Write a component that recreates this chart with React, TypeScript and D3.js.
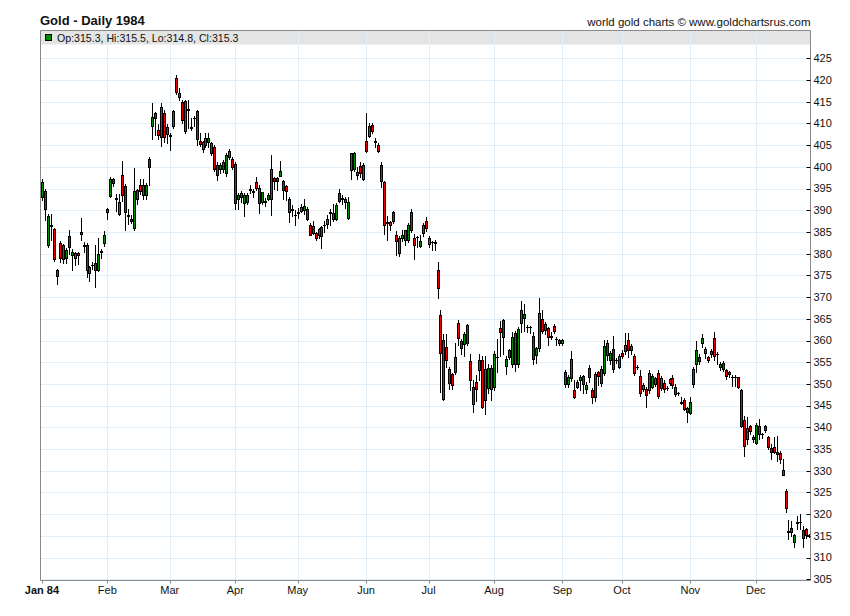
import * as d3 from "d3";

// each bar: [open, high, low, close]
type Bar = [number, number, number, number];

const jan: Bar[] = [
  [393.1, 397.3, 392.3, 396.4], [394.4, 395, 387.7, 390.4], [381.9, 389.2, 381.5, 388.6],
  [386.5, 389.2, 383.1, 386.3], [385.6, 386, 378.2, 378.7], [374.8, 376.5, 373.1, 376.3],
  [382.5, 383, 378, 379], [378.7, 382.2, 377.8, 381.9], [379, 381.2, 377.8, 380.9],
  [384, 385.5, 380, 381.5], [379.6, 381, 376.3, 380.4], [379, 380.5, 377.3, 380.2],
  [380.2, 380.5, 377.7, 379.6], [384.5, 388.3, 383.1, 385.1], [382.1, 382.7, 380.4, 381.7],
  [382.1, 382.5, 374.6, 376.3], [375.5, 377.2, 373.8, 376.9], [377.3, 378, 376.5, 377.5],
  [377.9, 381.9, 372.3, 376.3], [376.3, 383.5, 376, 380], [380.4, 381.1, 378.9, 380.6],
  [382.5, 385.3, 381.7, 384.2],
];
const feb: Bar[] = [
  [389.6, 390.6, 388.1, 390.4], [393.3, 397.7, 393, 397.2], [396.2, 397.5, 395.5, 397.2],
  [392.6, 393.8, 389.9, 392.8], [389.2, 393.8, 389, 392], [398.2, 401.3, 392.2, 393.4],
  [395.6, 396, 385.4, 389.5], [388.8, 390.4, 386.8, 388.6], [387.6, 389, 387, 388.1],
  [385.8, 399.8, 385.4, 394.4], [394.6, 395, 391.5, 392.7], [395.9, 397.3, 393.8, 394.4],
  [393.5, 397.3, 392.6, 395.9], [393.4, 396.2, 392.5, 395.9], [401.8, 402.3, 395.9, 400],
  [409.4, 414.6, 406.4, 411.4], [412.5, 412.7, 407.3, 411.2], [408.6, 409.8, 406.4, 407.4],
  [406.8, 414.8, 404.8, 413.7], [412.5, 413, 405.8, 406.8], [409.1, 409.8, 405.5, 407.5],
];
const mar: Bar[] = [
  [407.3, 407.7, 403.8, 407.1], [409.5, 413.1, 408.9, 412.9], [420.4, 421.2, 416.8, 417.2],
  [416, 418.1, 415.4, 416.9], [415, 415.3, 410, 410.9], [408.3, 415.4, 407.7, 415.2],
  [413.3, 415.4, 408.9, 413.1], [408.9, 411.2, 408.5, 409.1], [411.2, 411.6, 409.5, 411.2],
  [412.9, 413.1, 405, 406.3], [406, 407.7, 404.7, 405.3], [404, 406, 403.5, 405.8],
  [405, 407.9, 404.5, 406.6], [405.8, 407.8, 404.6, 406.6], [403.2, 405.8, 402.7, 405.5],
  [404.5, 405, 399, 399.4], [400.4, 401, 397, 398.2], [399.6, 400.8, 398.5, 400.4],
  [401.2, 401.5, 398.8, 399.4], [398.5, 403.1, 398, 402.7], [403.6, 404.1, 401.8, 402.3],
  [401.7, 402.2, 399.5, 399.9],
];
const apr: Bar[] = [
  [400.6, 401, 390.2, 391.6], [392.5, 393.9, 390.2, 393.5], [393, 394.5, 392, 394],
  [391.6, 394, 388.7, 393.5], [391.8, 394, 391.4, 393.5], [394.6, 395.8, 393.9, 394.8],
  [394.5, 395, 393, 394.3], [396.4, 397.7, 394.7, 395.2], [395.2, 395.8, 389.4, 391.6],
  [391.8, 394.3, 391.5, 394.1], [392.1, 392.8, 391, 391.9], [392.7, 394, 392.3, 393.5],
  [392.7, 402.7, 388.8, 399.6], [397.4, 397.6, 394.8, 396.8], [397.4, 397.7, 394.7, 396.8],
  [397.9, 401.4, 397.8, 399], [396.7, 397, 392.7, 394.6], [395.6, 395.9, 392.4, 394.4],
  [392.5, 393, 387.2, 389.7], [390.2, 391.1, 388.6, 390.1], [389, 390, 386.6, 388.8],
];
const may: Bar[] = [
  [389.6, 390.5, 388.2, 389.4], [389.9, 391.5, 389.6, 390.7], [390, 392.6, 389.2, 391],
  [390.4, 390.8, 387.8, 388.1], [386.6, 387, 384.2, 384.4], [384.8, 387.5, 384.5, 386.4],
  [384.8, 385.1, 383.2, 383.7], [384.3, 386, 383.5, 385.6], [386.2, 386.3, 381.2, 384.1],
  [386.7, 387.5, 385, 386.6], [386.8, 389, 386, 387.9], [389.3, 390.4, 386.5, 389.5],
  [389.3, 391.4, 387.5, 387.9], [388.1, 391.6, 387.8, 391.3], [393.9, 394.8, 391.8, 392.1],
  [392.9, 393.4, 391.5, 392.5], [392.6, 393, 390.5, 391.9], [388.3, 393.1, 387.9, 391.8],
  [399.3, 403.3, 397.3, 403.1], [399.5, 403.5, 399, 403.1], [398.1, 400, 397.3, 398.9],
  [400.2, 401.2, 397.7, 398.5], [397.3, 400.8, 397, 400.4],
];
const jun: Bar[] = [
  [405.9, 412.3, 403.4, 403.7], [407.2, 410, 406.8, 409.4], [409.6, 410.2, 407.9, 408.3],
  [405.9, 406.6, 404.6, 405.7], [405, 405.4, 403.5, 403.7], [400.4, 401.2, 395.4, 396.8],
  [396.5, 396.8, 384.6, 386.5], [387.2, 388.6, 383.2, 387.1], [387.3, 387.5, 385.5, 386.7],
  [389.5, 389.8, 387, 387.5], [384.2, 385.2, 379.6, 382.9], [380.2, 384, 379.4, 383.7],
  [383.7, 385.5, 383, 384.2], [383.2, 385.5, 381.9, 385.4], [383.2, 387, 382.8, 386.5],
  [389.5, 390.4, 385, 385.5], [383.5, 384.5, 378.8, 381.9], [383.9, 384, 381.5, 383.8],
  [381.8, 384.3, 381.5, 382.9], [384.8, 387, 384, 386.5], [387.5, 388.5, 385.3, 385.8],
];
const jul: Bar[] = [
  [382.2, 384, 381.5, 383.7], [382.7, 383, 380.8, 382.6], [382.7, 383.1, 380.8, 382.5],
  [376.2, 378.1, 369.8, 372.2], [365.9, 367.1, 348.1, 357.1], [346.5, 361.4, 346.2, 360.2],
  [358.5, 361.4, 354, 355.5], [350.2, 354, 348.9, 353.5], [352.2, 352.5, 348.8, 349.8],
  [352.7, 359.4, 352.3, 356.3], [364.1, 364.8, 359, 360.6], [359.8, 360.3, 356.9, 358.3],
  [359.2, 361.9, 356.5, 361.4], [363.5, 363.8, 359, 359.4], [355.2, 356.9, 348.5, 350.9],
  [345.4, 350.8, 343.5, 349.2], [350.5, 352, 346, 348.8], [353.1, 356.9, 350.8, 355.4],
  [355.6, 356.5, 344.5, 344.8], [346.3, 356.5, 343, 353.5], [349.1, 354.5, 348, 353.7],
  [348.8, 354.4, 346.2, 353.7],
];
const aug: Bar[] = [
  [349.2, 357.5, 348.5, 356.8], [356.2, 360.4, 352.7, 356.1], [362.9, 364.6, 356.5, 361.9],
  [364.8, 365, 356.8, 360.8], [354.2, 356.5, 352.3, 355.8], [356.2, 358, 355.8, 357.7],
  [354.6, 361.9, 354, 360.9], [361.7, 362.2, 353, 354.6], [354.6, 363.1, 353.8, 362.7],
  [364, 369.2, 362, 367.1], [365.2, 368.5, 362.3, 366.2], [363.1, 363.5, 362, 363],
  [363, 363.4, 361.8, 363.1], [361.1, 362, 354.5, 355.7], [356.7, 358.5, 354.8, 358.2],
  [358.2, 369.8, 357.5, 366.3], [364.9, 367.1, 361.8, 362.1], [362.5, 364.2, 361.5, 363.8],
  [362.8, 363.2, 359, 360.9], [361, 362, 360.3, 360.9], [363.4, 363.8, 361.7, 362.1],
  [360.3, 360.7, 359, 360.3], [359.5, 360.4, 359, 360.2],
];
const sep: Bar[] = [
  [359.5, 360.4, 359, 360.2], [352.8, 353.3, 349.4, 350], [350, 352, 349.4, 351.5],
  [351.3, 357.5, 350.6, 355.7], [348.6, 350.9, 346.8, 347.1], [349.4, 351, 349, 350.5],
  [350.9, 352, 348.5, 351.5], [351.8, 352.1, 347.8, 350], [348.8, 350.5, 348, 349.8],
  [353.6, 354.4, 350.5, 351.5], [348.5, 349, 345.5, 347.1], [346.9, 352.8, 346, 352.3],
  [352.8, 353, 349.8, 351.8], [350.2, 354.2, 349.5, 353.4], [352.5, 360.2, 352, 358.8],
  [359.5, 360.2, 355.6, 356.7], [355.4, 357.5, 354.5, 357.1], [358, 361.1, 352.8, 353.4],
  [355.4, 356, 354.8, 355.4], [354, 357, 353.7, 356.5],
];
const oct: Bar[] = [
  [357.2, 357.7, 356, 356.5], [357.5, 361.7, 357, 359], [360.2, 361.7, 356.3, 357.7],
  [357.7, 359.2, 357, 358.8], [356.5, 356.8, 352, 352.6], [354, 354.3, 353.5, 354],
  [351.8, 353.2, 347.2, 347.8], [348.8, 350.2, 348.4, 349.8], [348.8, 349.2, 344.8, 347.5],
  [348.6, 353.2, 348, 352.5], [349.4, 352.2, 349, 351.8], [350, 351.6, 349.5, 351.3],
  [352.5, 353.2, 346.8, 347.2], [349, 351.8, 348.5, 351.3], [350.3, 351, 348.2, 348.8],
  [349.1, 349.5, 348.5, 349], [351.1, 351.3, 349.8, 350.3], [351.3, 352, 349, 349.8],
  [349.2, 350, 347.2, 347.7], [347.9, 348.2, 347.5, 347.9], [345.8, 346.9, 345.3, 345.7],
  [346.2, 346.7, 343.9, 344.2], [344.4, 344.8, 341.3, 343.5],
];
const nov: Bar[] = [
  [343.3, 346.9, 343, 345.8], [350, 353.8, 349.2, 353.5], [354.6, 360, 352.7, 357.7],
  [356.2, 357, 354.5, 355.2], [359.5, 361.5, 358.5, 360.5], [357.1, 358.5, 356, 358.1],
  [356.2, 356.5, 355, 355.6], [356.8, 358, 356.3, 357.5], [360.5, 361.9, 355.5, 356.4],
  [356.9, 357.3, 354.6, 356.9], [353.8, 355, 353.3, 354.6], [354.8, 355.2, 353, 353.5],
  [353.1, 353.5, 351.2, 351.9], [352.3, 353, 351.5, 352.8], [351.7, 352, 349.6, 351.7],
  [351.7, 352, 349.6, 351.7], [351.5, 351.7, 349, 349.2], [348.6, 348.8, 340, 340.2],
  [341.7, 342.5, 333.3, 335.8], [337.3, 342.3, 336.2, 339.8], [340.2, 340.6, 338.5, 339.1],
  [337.2, 338.2, 336.6, 337.7],
];
const dec: Bar[] = [
  [336.5, 341, 336.2, 340.5], [340.4, 341.9, 337.3, 338.5], [338.5, 338.8, 337.6, 338.4],
  [340.2, 340.5, 338.9, 339.4], [337.7, 338.1, 335, 335.4], [335.2, 336.2, 332.7, 334.4],
  [335.4, 337.7, 334, 334.4], [334.4, 337.9, 332.3, 333.8], [334.1, 334.5, 331.8, 332.7],
  [329, 332.8, 329, 330.2], [325.4, 325.9, 320.5, 321.5], [315.8, 318.6, 314.2, 316.2],
  [316.9, 318.5, 315, 315.8], [313.5, 315.4, 312.4, 315.2], [318.1, 319.6, 316.5, 318],
  [318.1, 320, 316.5, 318.2], [316.4, 317.3, 312.5, 314.6], [316.5, 316.8, 314.6, 315.2],
  [315.3, 315.5, 314.8, 315.3],
];

const months = [jan, feb, mar, apr, may, jun, jul, aug, sep, oct, nov, dec];
const monthLabels = ["Jan 84", "Feb", "Mar", "Apr", "May", "Jun", "Jul", "Aug", "Sep", "Oct", "Nov", "Dec"];
const priceTicks = d3.range(305, 426, 5);

const GREEN = "#008c00";
const RED = "#ee0000";
const GRID = "#e2eef8";
const AXIS = "#8a8a8a";
const FONT = "'Liberation Sans', Arial, sans-serif";

export default function App() {
  const width = 850;
  const height = 616;
  const left = 40.5, right = 810.5, top = 30.5, bottom = 580.5;

  // chart slots are weekdays; the x position is the weekday index
  const weekdays = d3.timeDay
    .range(new Date(1984, 0, 1), new Date(1985, 0, 1))
    .filter((d) => d.getDay() % 6 !== 0);

  const x = d3.scaleLinear().domain([0, 258.4]).range([41.9, right]);
  const y = d3.scaleLinear().domain([305, 425]).range([579.3, 58.3]);

  const monthStart = months.map((_, m) => weekdays.findIndex((d) => d.getMonth() === m));
  const candles = months.flatMap((bars, m) =>
    bars.map(([open, high, low, close], j) => ({ idx: monthStart[m] + j, open, high, low, close }))
  );
  const last = candles[candles.length - 1];
  const crisp = (v: number) => Math.round(v) + 0.5;

  return (
    <svg width={width} height={height} style={{ position: "absolute", left: 0, top: 0, background: "#fff" }}
      fontFamily={FONT}>
      <rect x={0} y={0} width={width} height={height} fill="#fff" />
      {/* legend band */}
      <rect x={left} y={top} width={right - left} height={14} fill="#e4e4e4" />
      {/* grid */}
      {priceTicks.map((t) => (
        <line key={"h" + t} x1={left} x2={right} y1={crisp(y(t))} y2={crisp(y(t))} stroke={GRID} />
      ))}
      {monthStart.slice(1).map((s, m) => (
        <line key={"v" + m} x1={crisp(x(s))} x2={crisp(x(s))} y1={top} y2={bottom} stroke={GRID} />
      ))}
      {/* candles */}
      {candles.map((c, i) => {
        const cx = crisp(x(c.idx));
        const t = crisp(y(Math.max(c.open, c.close)));
        const b = crisp(y(Math.min(c.open, c.close)));
        const up = c.close > c.open;
        return (
          <g key={i}>
            <line x1={cx} x2={cx} y1={Math.round(y(c.high))} y2={Math.round(y(c.low)) + 1} stroke="#000" />
            {b - t >= 1 ? (
              <rect x={cx - 1} y={t} width={2} height={b - t} fill={up ? GREEN : RED} stroke="#000" />
            ) : (
              <line x1={cx - 1.5} x2={cx + 1.5} y1={t} y2={t} stroke="#000" />
            )}
          </g>
        );
      })}
      {/* frame */}
      <line x1={left} x2={left} y1={top} y2={bottom} stroke={AXIS} />
      <line x1={left} x2={right} y1={top} y2={top} stroke={AXIS} />
      <line x1={right} x2={right} y1={top} y2={bottom} stroke={AXIS} />
      <line x1={left} x2={right} y1={bottom} y2={bottom} stroke={AXIS} />
      {/* right axis */}
      {priceTicks.map((t) => (
        <g key={"t" + t}>
          <line x1={right - 4} x2={right} y1={crisp(y(t))} y2={crisp(y(t))} stroke="#000" />
          <text x={right + 3} y={y(t)} dy="0.35em" fontSize={11} fill="#111">{t}</text>
        </g>
      ))}
      {/* bottom axis */}
      {monthStart.map((s, m) => (
        <g key={"m" + m}>
          <line x1={crisp(x(s))} x2={crisp(x(s))} y1={bottom} y2={bottom + 3} stroke={AXIS} />
          <text x={x(s)} y={594} textAnchor="middle" fontSize={11} fontWeight={m === 0 ? "bold" : "normal"}
            fill="#111">{monthLabels[m]}</text>
        </g>
      ))}
      {/* titles */}
      <text x={40} y={25} fontSize={13} fontWeight="bold" fill="#111">Gold - Daily 1984</text>
      <text x={right} y={25.5} textAnchor="end" fontSize={11.5} fill="#111">
        world gold charts © www.goldchartsrus.com
      </text>
      <rect x={45.5} y={34.5} width={6} height={6} fill={GREEN} stroke="#000" />
      <text x={57} y={41.5} fontSize={10.6} fill="#111">
        {`Op:${last.open}, Hi:${last.high}, Lo:${last.low}, Cl:${last.close}`}
      </text>
    </svg>
  );
}
